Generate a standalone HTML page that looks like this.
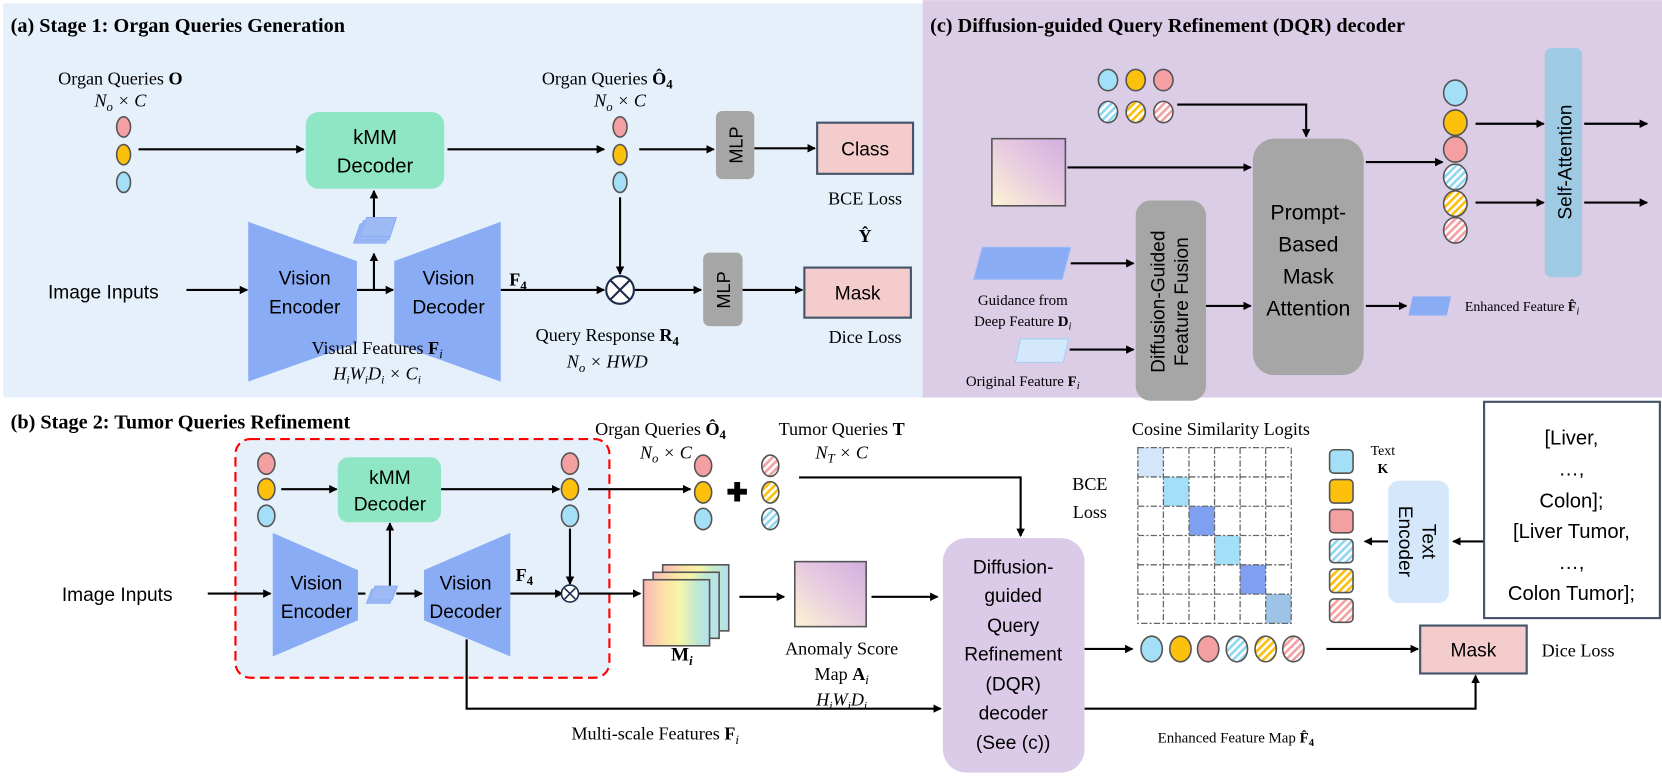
<!DOCTYPE html>
<html><head><meta charset="utf-8"><style>
html,body{margin:0;padding:0;background:#fff;}
svg{display:block;}
.s{font-family:"Liberation Serif",serif;}
.a{font-family:"Liberation Sans",sans-serif;}
</style></head><body>
<svg width="1662" height="777" viewBox="0 0 1560 729" xmlns="http://www.w3.org/2000/svg">
<defs>
<marker id="ar" markerWidth="8" markerHeight="8" refX="7" refY="4" orient="auto" markerUnits="userSpaceOnUse"><path d="M0,0 L8,4 L0,8 z" fill="#000"/></marker>
<pattern id="hb" width="5" height="5" patternUnits="userSpaceOnUse" patternTransform="rotate(45)"><rect width="5" height="5" fill="#fff"/><rect width="2.5" height="5" fill="#8fd6f3"/></pattern>
<pattern id="hy" width="5" height="5" patternUnits="userSpaceOnUse" patternTransform="rotate(45)"><rect width="5" height="5" fill="#fff"/><rect width="2.5" height="5" fill="#fdbf0f"/></pattern>
<pattern id="hp" width="5" height="5" patternUnits="userSpaceOnUse" patternTransform="rotate(45)"><rect width="5" height="5" fill="#fff"/><rect width="2.5" height="5" fill="#f3a0a3"/></pattern>
<linearGradient id="g1" x1="0" y1="1" x2="1" y2="0"><stop offset="0" stop-color="#fdf3d3"/><stop offset="0.5" stop-color="#e8cce0"/><stop offset="1" stop-color="#d2aee0"/></linearGradient>
<linearGradient id="rb" x1="0" y1="0" x2="1" y2="0"><stop offset="0" stop-color="#f7b6b6"/><stop offset="0.3" stop-color="#fbe1a6"/><stop offset="0.55" stop-color="#f8f5a8"/><stop offset="0.8" stop-color="#bfe9d0"/><stop offset="1" stop-color="#b6e0f0"/></linearGradient>
</defs>

<!-- panels -->
<rect x="3" y="3" width="863" height="370" fill="#e6f0fb"/>
<rect x="866" y="0" width="694" height="373" fill="#dccde6"/>
<rect x="221" y="412" width="351" height="224" rx="14" fill="#e6f0fb" stroke="#f00" stroke-width="2" stroke-dasharray="9,5"/>

<g stroke="#000" stroke-width="2" fill="none" marker-end="url(#ar)">
<!-- panel a -->
<line x1="130" y1="140" x2="285" y2="140"/>
<line x1="420" y1="140" x2="567" y2="140"/>
<line x1="600" y1="140" x2="670" y2="140"/>
<line x1="708" y1="139" x2="765" y2="139"/>
<line x1="175" y1="272" x2="232" y2="272"/>
<line x1="335" y1="272" x2="369" y2="272"/>
<line x1="351" y1="272" x2="351" y2="238"/>
<line x1="351" y1="210" x2="351" y2="179"/>
<line x1="470" y1="272" x2="567" y2="272"/>
<line x1="582" y1="185" x2="582" y2="257"/>
<line x1="596" y1="272" x2="658" y2="272"/>
<line x1="697" y1="272" x2="753" y2="272"/>
<!-- panel c -->
<polyline points="1105,98 1226,98 1226,128"/>
<line x1="1002" y1="157" x2="1174" y2="157"/>
<line x1="1005" y1="247" x2="1064" y2="247"/>
<line x1="1004" y1="328" x2="1064" y2="328"/>
<line x1="1132" y1="287" x2="1174" y2="287"/>
<line x1="1282" y1="152" x2="1354" y2="152"/>
<line x1="1385" y1="116" x2="1449" y2="116"/>
<line x1="1385" y1="190" x2="1449" y2="190"/>
<line x1="1487" y1="116" x2="1546" y2="116"/>
<line x1="1487" y1="190" x2="1546" y2="190"/>
<line x1="1282" y1="287" x2="1320" y2="287"/>
<!-- panel b -->
<line x1="264" y1="459" x2="316" y2="459"/>
<line x1="414" y1="459" x2="525" y2="459"/>
<line x1="552" y1="459" x2="648" y2="459"/>
<polyline points="750,448 958,448 958,503"/>
<line x1="195" y1="557" x2="254" y2="557"/>
<line x1="336" y1="557" x2="343" y2="557" marker-end="none"/>
<line x1="372" y1="557" x2="396" y2="557"/>
<line x1="366" y1="550" x2="366" y2="491"/>
<line x1="479" y1="557" x2="528" y2="557"/>
<line x1="535" y1="496" x2="535" y2="548"/>
<line x1="543" y1="557" x2="601" y2="557"/>
<line x1="694" y1="560" x2="736" y2="560"/>
<line x1="818" y1="560" x2="880" y2="560"/>
<polyline points="438,600 438,665 883,665"/>
<line x1="1018" y1="609" x2="1063" y2="609"/>
<line x1="1245" y1="609" x2="1331" y2="609"/>
<polyline points="1018,665 1385,665 1385,634"/>
<line x1="1303" y1="508" x2="1281" y2="508"/>
<line x1="1392" y1="508" x2="1364" y2="508"/>
</g>

<!-- Panel a -->
<text class="s" x="10" y="30" font-size="19" font-weight="bold">(a) Stage 1: Organ Queries Generation</text>
<text class="s" x="113" y="79" font-size="17" text-anchor="middle">Organ Queries <tspan font-weight="bold">O</tspan></text>
<text class="s" x="113" y="100" font-size="17" text-anchor="middle" font-style="italic">N<tspan font-size="12" dy="4">o</tspan><tspan dy="-4"> × C</tspan></text>
<g stroke="#555" stroke-width="1.5">
<ellipse cx="116" cy="119" rx="6.5" ry="9.5" fill="#f4a0a3"/>
<ellipse cx="116" cy="145" rx="6.5" ry="9.5" fill="#fdc10c"/>
<ellipse cx="116" cy="171" rx="6.5" ry="9.5" fill="#a3dff6"/>
<ellipse cx="582" cy="119" rx="6.5" ry="9.5" fill="#f4a0a3"/>
<ellipse cx="582" cy="145" rx="6.5" ry="9.5" fill="#fdc10c"/>
<ellipse cx="582" cy="171" rx="6.5" ry="9.5" fill="#a3dff6"/>
</g>
<rect x="287" y="105" width="130" height="72" rx="12" fill="#8ee6c5"/>
<text class="a" x="352" y="135" font-size="19" text-anchor="middle">kMM</text>
<text class="a" x="352" y="162" font-size="19" text-anchor="middle">Decoder</text>
<text class="s" x="570" y="79" font-size="17" text-anchor="middle">Organ Queries <tspan font-weight="bold">Ô<tspan font-size="12" dy="4">4</tspan></tspan></text>
<text class="s" x="582" y="100" font-size="17" text-anchor="middle" font-style="italic">N<tspan font-size="12" dy="4">o</tspan><tspan dy="-4"> × C</tspan></text>
<rect x="672" y="104" width="36" height="64" rx="6" fill="#a6a6a6"/>
<text class="a" transform="translate(697,136) rotate(-90)" font-size="17" text-anchor="middle">MLP</text>
<rect x="767" y="115" width="90" height="48" fill="#f4cccc" stroke="#44546a" stroke-width="2"/>
<text class="a" x="812" y="146" font-size="18" text-anchor="middle">Class</text>
<text class="s" x="812" y="192" font-size="17" text-anchor="middle">BCE Loss</text>
<text class="s" x="812" y="227" font-size="17" text-anchor="middle" font-weight="bold">Ŷ</text>
<polygon points="233,208 335,245 335,322 233,358" fill="#8aacf5"/>
<text class="a" x="286" y="267" font-size="18" text-anchor="middle">Vision</text>
<text class="a" x="286" y="294" font-size="18" text-anchor="middle">Encoder</text>
<polygon points="370,245 470,208 470,358 370,322" fill="#8aacf5"/>
<text class="a" x="421" y="267" font-size="18" text-anchor="middle">Vision</text>
<text class="a" x="421" y="294" font-size="18" text-anchor="middle">Decoder</text>
<text class="a" x="97" y="280" font-size="18" text-anchor="middle">Image Inputs</text>
<g fill="#9dbaf5" stroke="#8aacf5"><polygon points="332,228 338,210 368,210 362,228"/><polygon points="335,225 341,207 371,207 365,225"/><polygon points="338,222 344,204 372,204 366,222"/></g>
<text class="s" x="478" y="268" font-size="17" font-weight="bold">F<tspan font-size="12" dy="4">4</tspan></text>
<circle cx="582" cy="272" r="13" fill="#fff" stroke="#1f2d4a" stroke-width="2"/>
<path d="M573,263 L591,281 M591,263 L573,281" stroke="#1f2d4a" stroke-width="2"/>
<rect x="660" y="237" width="37" height="69" rx="6" fill="#a6a6a6"/>
<text class="a" transform="translate(685,272) rotate(-90)" font-size="17" text-anchor="middle">MLP</text>
<rect x="755" y="251" width="100" height="47" fill="#f4cccc" stroke="#44546a" stroke-width="2"/>
<text class="a" x="805" y="281" font-size="18" text-anchor="middle">Mask</text>
<text class="s" x="812" y="322" font-size="17" text-anchor="middle">Dice Loss</text>
<text class="s" x="354" y="332" font-size="17" text-anchor="middle">Visual Features <tspan font-weight="bold">F</tspan><tspan font-size="12" dy="4" font-style="italic">i</tspan></text>
<text class="s" x="354" y="356" font-size="17" text-anchor="middle" font-style="italic">H<tspan font-size="11" dy="4">i</tspan><tspan dy="-4">W</tspan><tspan font-size="11" dy="4">i</tspan><tspan dy="-4">D</tspan><tspan font-size="11" dy="4">i</tspan><tspan dy="-4"> × C</tspan><tspan font-size="11" dy="4">i</tspan></text>
<text class="s" x="570" y="320" font-size="17" text-anchor="middle">Query Response <tspan font-weight="bold">R<tspan font-size="12" dy="4">4</tspan></tspan></text>
<text class="s" x="570" y="345" font-size="17" text-anchor="middle" font-style="italic">N<tspan font-size="12" dy="4">o</tspan><tspan dy="-4"> × HWD</tspan></text>

<!-- Panel c -->
<text class="s" x="873" y="30" font-size="19" font-weight="bold">(c) Diffusion-guided Query Refinement (DQR) decoder</text>
<g stroke="#555" stroke-width="1.5">
<ellipse cx="1040" cy="75" rx="9" ry="10" fill="#a3dff6"/>
<ellipse cx="1066" cy="75" rx="9" ry="10" fill="#fdc10c"/>
<ellipse cx="1092" cy="75" rx="9" ry="10" fill="#f4a0a3"/>
<ellipse cx="1040" cy="105" rx="9" ry="10" fill="url(#hb)"/>
<ellipse cx="1066" cy="105" rx="9" ry="10" fill="url(#hy)"/>
<ellipse cx="1092" cy="105" rx="9" ry="10" fill="url(#hp)"/>
<ellipse cx="1366" cy="87" rx="11" ry="12" fill="#a3dff6"/>
<ellipse cx="1366" cy="115" rx="11" ry="12" fill="#fdc10c"/>
<ellipse cx="1366" cy="140" rx="11" ry="12" fill="#f4a0a3"/>
<ellipse cx="1366" cy="166" rx="11" ry="12" fill="url(#hb)"/>
<ellipse cx="1366" cy="191" rx="11" ry="12" fill="url(#hy)"/>
<ellipse cx="1366" cy="216" rx="11" ry="12" fill="url(#hp)"/>
</g>
<rect x="931" y="130" width="69" height="63" fill="url(#g1)" stroke="#555" stroke-width="1.5"/>
<rect x="1176" y="130" width="104" height="222" rx="20" fill="#a6a6a6"/>
<g class="a" font-size="20" text-anchor="middle"><text x="1228" y="206">Prompt-</text><text x="1228" y="236">Based</text><text x="1228" y="266">Mask</text><text x="1228" y="296">Attention</text></g>
<rect x="1066" y="188" width="66" height="188" rx="14" fill="#a6a6a6"/>
<text class="a" transform="translate(1099,283) rotate(-90)" font-size="18" text-anchor="middle"><tspan x="0" dy="-6">Diffusion-Guided</tspan><tspan x="0" dy="22">Feature Fusion</tspan></text>
<polygon points="922,232 1005,232 997,262 914,262" fill="#8aacf5" stroke="#9dbaf5"/>
<text class="s" x="960" y="286" font-size="14" text-anchor="middle">Guidance from</text>
<text class="s" x="960" y="306" font-size="14" text-anchor="middle">Deep Feature <tspan font-weight="bold">D</tspan><tspan font-size="10" dy="3" font-style="italic">i</tspan></text>
<polygon points="958,318 1003,318 998,340 953,340" fill="#d4e8fb" stroke="#a3d0f5"/>
<text class="s" x="960" y="362" font-size="14" text-anchor="middle">Original Feature <tspan font-weight="bold">F</tspan><tspan font-size="10" dy="3" font-style="italic">i</tspan></text>
<rect x="1450" y="45" width="35" height="215" rx="6" fill="#9ecae3"/>
<text class="a" transform="translate(1475,152) rotate(-90)" font-size="18" text-anchor="middle">Self-Attention</text>
<polygon points="1326,278 1362,278 1358,296 1322,296" fill="#8aacf5"/>
<text class="s" x="1375" y="292" font-size="13">Enhanced Feature <tspan font-weight="bold">F̂</tspan><tspan font-size="10" dy="3" font-style="italic">i</tspan></text>

<!-- Panel b -->
<text class="s" x="10" y="402" font-size="19" font-weight="bold">(b) Stage 2: Tumor Queries Refinement</text>
<g stroke="#555" stroke-width="1.5">
<ellipse cx="250" cy="435" rx="8" ry="10" fill="#f4a0a3"/>
<ellipse cx="250" cy="459" rx="8" ry="10" fill="#fdc10c"/>
<ellipse cx="250" cy="484" rx="8" ry="10" fill="#a3dff6"/>
<ellipse cx="535" cy="435" rx="8" ry="10" fill="#f4a0a3"/>
<ellipse cx="535" cy="459" rx="8" ry="10" fill="#fdc10c"/>
<ellipse cx="535" cy="484" rx="8" ry="10" fill="#a3dff6"/>
<ellipse cx="660" cy="437" rx="8" ry="10" fill="#f4a0a3"/>
<ellipse cx="660" cy="462" rx="8" ry="10" fill="#fdc10c"/>
<ellipse cx="660" cy="487" rx="8" ry="10" fill="#a3dff6"/>
<ellipse cx="723" cy="437" rx="8" ry="10" fill="url(#hp)"/>
<ellipse cx="723" cy="462" rx="8" ry="10" fill="url(#hy)"/>
<ellipse cx="723" cy="487" rx="8" ry="10" fill="url(#hb)"/>
</g>
<rect x="317" y="429" width="97" height="61" rx="10" fill="#8ee6c5"/>
<text class="a" x="366" y="454" font-size="18" text-anchor="middle">kMM</text>
<text class="a" x="366" y="479" font-size="18" text-anchor="middle">Decoder</text>
<polygon points="256,500 336,535 336,582 256,616" fill="#8aacf5"/>
<text class="a" x="297" y="553" font-size="18" text-anchor="middle">Vision</text>
<text class="a" x="297" y="580" font-size="18" text-anchor="middle">Encoder</text>
<polygon points="398,535 479,500 479,616 398,582" fill="#8aacf5"/>
<text class="a" x="437" y="553" font-size="18" text-anchor="middle">Vision</text>
<text class="a" x="437" y="580" font-size="18" text-anchor="middle">Decoder</text>
<text class="a" x="110" y="564" font-size="18" text-anchor="middle">Image Inputs</text>
<g fill="#9dbaf5" stroke="#8aacf5"><polygon points="344,566 349,553 371,553 366,566"/><polygon points="347,563 352,550 373,550 368,563"/></g>
<text class="s" x="484" y="545" font-size="17" font-weight="bold">F<tspan font-size="12" dy="4">4</tspan></text>
<circle cx="535" cy="557" r="8" fill="#fff" stroke="#1f2d4a" stroke-width="1.5"/>
<path d="M530,552 L540,562 M540,552 L530,562" stroke="#1f2d4a" stroke-width="1.5"/>
<text class="s" x="620" y="408" font-size="17" text-anchor="middle">Organ Queries <tspan font-weight="bold">Ô<tspan font-size="12" dy="4">4</tspan></tspan></text>
<text class="s" x="625" y="430" font-size="17" text-anchor="middle" font-style="italic">N<tspan font-size="12" dy="4">o</tspan><tspan dy="-4"> × C</tspan></text>
<text x="692" y="470" font-size="24" font-weight="bold" text-anchor="middle" class="a">✚</text>
<text class="s" x="790" y="408" font-size="17" text-anchor="middle">Tumor Queries <tspan font-weight="bold">T</tspan></text>
<text class="s" x="790" y="430" font-size="17" text-anchor="middle" font-style="italic">N<tspan font-size="12" dy="4">T</tspan><tspan dy="-4"> × C</tspan></text>
<g stroke="#555" stroke-width="1.5">
<rect x="622" y="530" width="62" height="62" fill="url(#rb)"/>
<rect x="613" y="537" width="62" height="62" fill="url(#rb)"/>
<rect x="604" y="544" width="62" height="62" fill="url(#rb)"/>
</g>
<text class="s" x="640" y="620" font-size="18" text-anchor="middle" font-weight="bold">M<tspan font-size="12" dy="4" font-style="italic">i</tspan></text>
<rect x="746" y="527" width="67" height="61" fill="url(#g1)" stroke="#555" stroke-width="1.5"/>
<text class="s" x="790" y="614" font-size="17" text-anchor="middle">Anomaly Score</text>
<text class="s" x="790" y="638" font-size="17" text-anchor="middle">Map <tspan font-weight="bold">A</tspan><tspan font-size="12" dy="4" font-style="italic">i</tspan></text>
<text class="s" x="790" y="662" font-size="17" text-anchor="middle" font-style="italic">H<tspan font-size="11" dy="4">i</tspan><tspan dy="-4">W</tspan><tspan font-size="11" dy="4">i</tspan><tspan dy="-4">D</tspan><tspan font-size="11" dy="4">i</tspan></text>
<text class="s" x="615" y="694" font-size="17" text-anchor="middle">Multi-scale Features <tspan font-weight="bold">F</tspan><tspan font-size="12" dy="4" font-style="italic">i</tspan></text>
<rect x="885" y="505" width="133" height="220" rx="22" fill="#dccbe8"/>
<g class="a" font-size="18" text-anchor="middle"><text x="951" y="538">Diffusion-</text><text x="951" y="565">guided</text><text x="951" y="593">Query</text><text x="951" y="620">Refinement</text><text x="951" y="648">(DQR)</text><text x="951" y="675">decoder</text><text x="951" y="703">(See (c))</text></g>
<text class="s" x="1146" y="408" font-size="17" text-anchor="middle">Cosine Similarity Logits</text>
<text class="s" x="1023" y="460" font-size="17" text-anchor="middle">BCE</text>
<text class="s" x="1023" y="486" font-size="17" text-anchor="middle">Loss</text>
<g>
<rect x="1068" y="420" width="24" height="27.5" fill="#d3e6fa"/>
<rect x="1092" y="447.5" width="24" height="27.5" fill="#a3dff6"/>
<rect x="1116" y="475" width="24" height="27.5" fill="#7f9ff0"/>
<rect x="1140" y="502.5" width="24" height="27.5" fill="#a3dff6"/>
<rect x="1164" y="530" width="24" height="27.5" fill="#7f9ff0"/>
<rect x="1188" y="557.5" width="24" height="27.5" fill="#9dc3e6"/>
</g>
<g stroke="#666" stroke-width="1.2" stroke-dasharray="6,2,2,2" fill="none">
<rect x="1068" y="420" width="144" height="165"/>
<line x1="1092" y1="420" x2="1092" y2="585"/><line x1="1116" y1="420" x2="1116" y2="585"/><line x1="1140" y1="420" x2="1140" y2="585"/><line x1="1164" y1="420" x2="1164" y2="585"/><line x1="1188" y1="420" x2="1188" y2="585"/>
<line x1="1068" y1="447.5" x2="1212" y2="447.5"/><line x1="1068" y1="475" x2="1212" y2="475"/><line x1="1068" y1="502.5" x2="1212" y2="502.5"/><line x1="1068" y1="530" x2="1212" y2="530"/><line x1="1068" y1="557.5" x2="1212" y2="557.5"/>
</g>
<g stroke="#555" stroke-width="1.5">
<rect x="1248" y="422" width="22" height="22" rx="4" fill="#a3dff6"/>
<rect x="1248" y="450" width="22" height="22" rx="4" fill="#fdc10c"/>
<rect x="1248" y="478" width="22" height="22" rx="4" fill="#f4a0a3"/>
<rect x="1248" y="506" width="22" height="22" rx="4" fill="url(#hb)"/>
<rect x="1248" y="534" width="22" height="22" rx="4" fill="url(#hy)"/>
<rect x="1248" y="562" width="22" height="22" rx="4" fill="url(#hp)"/>
<ellipse cx="1081" cy="609" rx="10" ry="12" fill="#a3dff6"/>
<ellipse cx="1108" cy="609" rx="10" ry="12" fill="#fdc10c"/>
<ellipse cx="1134" cy="609" rx="10" ry="12" fill="#f4a0a3"/>
<ellipse cx="1161" cy="609" rx="10" ry="12" fill="url(#hb)"/>
<ellipse cx="1188" cy="609" rx="10" ry="12" fill="url(#hy)"/>
<ellipse cx="1214" cy="609" rx="10" ry="12" fill="url(#hp)"/>
</g>
<text class="s" x="1298" y="427" font-size="13" text-anchor="middle">Text</text>
<text class="s" x="1298" y="444" font-size="13" text-anchor="middle" font-weight="bold">K</text>
<rect x="1303" y="451" width="57" height="115" rx="10" fill="#d5e8fb"/>
<text class="a" transform="translate(1331,508) rotate(90)" font-size="18" text-anchor="middle"><tspan x="0" dy="-4">Text</tspan><tspan x="0" dy="22">Encoder</tspan></text>
<rect x="1393" y="377" width="165" height="203" fill="#fff" stroke="#44546a" stroke-width="2"/>
<g class="a" font-size="19" text-anchor="middle"><text x="1475" y="417">[Liver,</text><text x="1475" y="446">…,</text><text x="1475" y="476">Colon];</text><text x="1475" y="505">[Liver Tumor,</text><text x="1475" y="534">…,</text><text x="1475" y="563">Colon Tumor];</text></g>
<rect x="1333" y="587" width="100" height="45" fill="#f4cccc" stroke="#44546a" stroke-width="2"/>
<text class="a" x="1383" y="616" font-size="18" text-anchor="middle">Mask</text>
<text class="s" x="1447" y="616" font-size="17">Dice Loss</text>
<text class="s" x="1160" y="697" font-size="14" text-anchor="middle">Enhanced Feature Map <tspan font-weight="bold">F̂<tspan font-size="10" dy="3">4</tspan></tspan></text>
</svg>
</body></html>
